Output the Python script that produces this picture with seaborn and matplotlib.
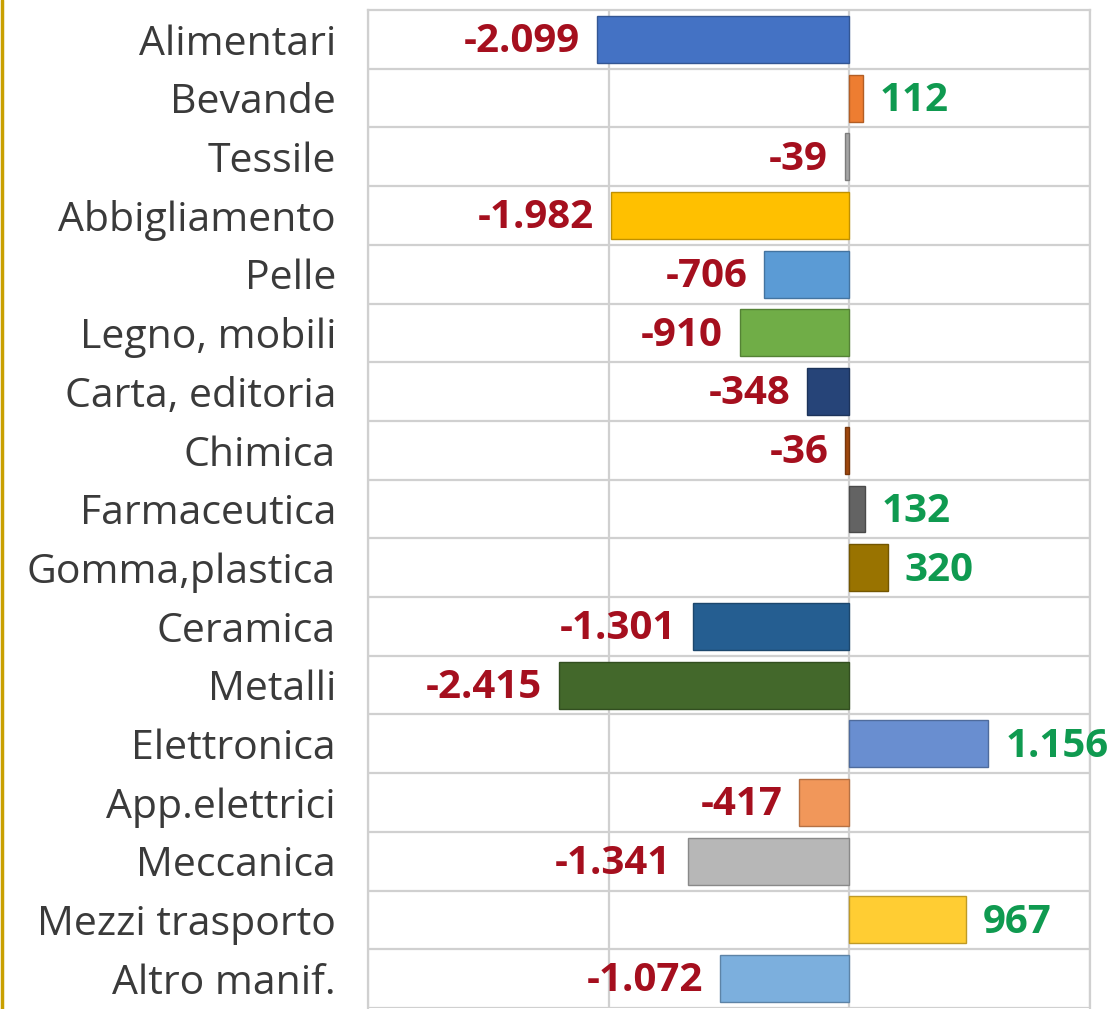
import matplotlib
matplotlib.use("Agg")
import matplotlib.pyplot as plt
import seaborn as sns
import pandas as pd
from matplotlib.lines import Line2D
from matplotlib.colors import to_rgb

settori = ["Alimentari", "Bevande", "Tessile", "Abbigliamento", "Pelle",
           "Legno, mobili", "Carta, editoria", "Chimica", "Farmaceutica",
           "Gomma,plastica", "Ceramica", "Metalli", "Elettronica",
           "App.elettrici", "Meccanica", "Mezzi trasporto", "Altro manif."]
saldo = [-2099, 112, -39, -1982, -706, -910, -348, -36, 132, 320,
         -1301, -2415, 1156, -417, -1341, 967, -1072]
colori = ["#4472C4", "#ED7D31", "#A5A5A5", "#FFC000", "#5B9BD5", "#70AD47",
          "#264478", "#9E480E", "#636363", "#997300", "#255E91", "#43682B",
          "#698ED0", "#F1975A", "#B7B7B7", "#FFCD33", "#7CAFDD"]

df = pd.DataFrame({"Settore": settori, "Saldo": saldo})

sns.set_style("white")
plt.rcParams['font.family'] = ['Open Sans', 'DejaVu Sans']

fig = plt.figure(figsize=(11.15, 10.09), dpi=100)
ax = fig.add_axes([368 / 1115, 1 - 1008 / 1009, 722 / 1115, 998 / 1009])

sns.barplot(data=df, x="Saldo", y="Settore", hue="Settore", palette=colori,
            saturation=1, orient="h", width=0.8, legend=False, ax=ax, zorder=3,
            linewidth=1)

# bordo leggermente piu' scuro per ogni barra
for p in ax.patches:
    r, g, b = to_rgb(p.get_facecolor())
    p.set_edgecolor((r * 0.75, g * 0.75, b * 0.75))

ax.set_xlim(-4000, 2000)
ax.set_ylim(len(settori) - 0.5, -0.5)
ax.set_xticks([-4000, -2000, 0, 2000])
ax.set_yticks([i + 0.5 for i in range(len(settori))], minor=True)
ax.grid(True, axis="x", color="#D0D0D0", linewidth=1.6, zorder=0)
ax.grid(True, axis="y", which="minor", color="#D0D0D0", linewidth=1.6, zorder=0)
ax.grid(False, axis="y", which="major")
ax.tick_params(axis="x", labelbottom=False, length=0)
ax.tick_params(axis="y", which="both", length=0, labelsize=29.5, labelcolor="#3A3A3A", pad=23)
for s in ax.spines.values():
    s.set_color("#D0D0D0")
    s.set_linewidth(1.6)
ax.spines["bottom"].set_visible(False)
ax.set_xlabel("")
ax.set_ylabel("")

for i, v in enumerate(saldo):
    testo = f"{v:,}".replace(",", ".")
    if v < 0:
        ax.text(v - 140, i + 0.04, testo, ha="right", va="center", fontsize=29,
                fontweight="bold", color="#A50F1E", zorder=4)
    else:
        ax.text(v + 140, i + 0.04, testo, ha="left", va="center", fontsize=29,
                fontweight="bold", color="#0F9A50", zorder=4)

fig.add_artist(Line2D([0.0015, 0.0015], [0, 1], color="#C9A000", linewidth=2.5))

fig.savefig("out.png", dpi=100)
